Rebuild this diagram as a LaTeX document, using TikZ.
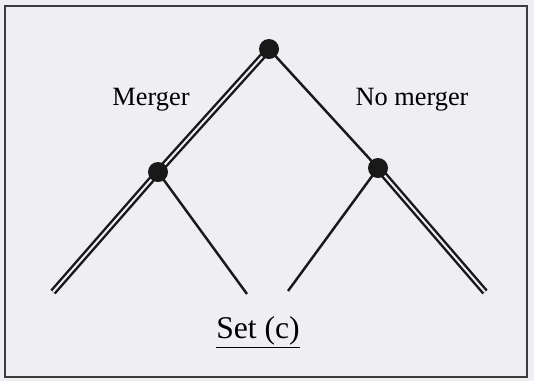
\documentclass[tikz,border=0pt]{standalone}
\usepackage{fontspec}
\setmainfont{Liberation Serif}
\usetikzlibrary{positioning}
\definecolor{paper}{RGB}{238,238,243}
\definecolor{ink}{RGB}{25,25,25}

\begin{document}
\begin{tikzpicture}[x=0.03cm, y=-0.03cm, font=\fontsize{22.5}{27}\selectfont,
  dot/.style={circle, fill=ink, inner sep=0pt, minimum size=0.6cm},
  branch/.style={line width=2.1pt, draw=ink},
  chosen/.style={line width=2.1pt, draw=ink, double=paper, double distance=1.7pt}]
  \fill[paper] (0,0) rectangle (534,381);
  \draw[line width=1.3pt, draw=ink!85] (5,6) rectangle (527,377);
  % decision points
  \coordinate (root) at (269,49);
  \coordinate (merge) at (158,172);
  \coordinate (nomerge) at (378,168);
  % outcomes
  \coordinate (ll) at (53,292);
  \coordinate (lr) at (247,294);
  \coordinate (rl) at (288,291);
  \coordinate (rr) at (485,292);
  \draw[chosen] (root) -- (merge);
  \draw[chosen] (merge) -- (ll);
  \draw[branch] (merge) -- (lr);
  \draw[branch] (root) -- (nomerge);
  \draw[branch] (nomerge) -- (rl);
  \draw[chosen] (nomerge) -- (rr);
  \node[dot] (rootdot) at (root) {};
  \node[dot] (mergedot) at (merge) {};
  \node[dot] (nomergedot) at (nomerge) {};
  \node (lmerge) at (151,100) {Merger};
  \node (lnomerge) at (412,100) {No merger};
  \node[font=\fontsize{27}{32}\selectfont] (caption) at (258,332) {\underline{Set (c)}};
\end{tikzpicture}
\end{document}
